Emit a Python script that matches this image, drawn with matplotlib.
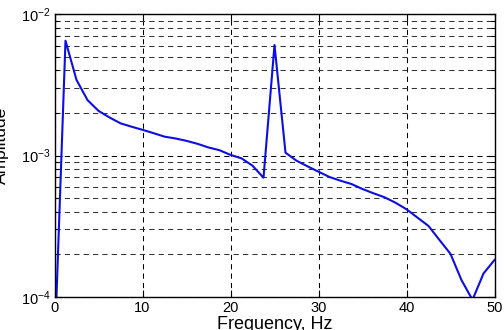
import matplotlib
matplotlib.use("Agg")
import matplotlib.pyplot as plt
from matplotlib.ticker import LogLocator, FixedLocator

plt.rcParams['font.family'] = ['Liberation Sans', 'DejaVu Sans']
plt.rcParams['mathtext.fontset'] = 'custom'
plt.rcParams['mathtext.rm'] = 'Liberation Sans'
plt.rcParams['mathtext.it'] = 'Liberation Sans:italic'
plt.rcParams['mathtext.bf'] = 'Liberation Sans:bold'

frequency = [i * 1.25 for i in range(41)]
amplitude = [
    4.0e-5, 6.5e-3, 3.43e-3, 2.47e-3, 2.07e-3, 1.86e-3, 1.69e-3, 1.60e-3,
    1.52e-3, 1.44e-3, 1.36e-3, 1.32e-3, 1.27e-3, 1.21e-3, 1.14e-3, 1.09e-3,
    1.01e-3, 0.955e-3, 0.847e-3, 0.696e-3, 6.06e-3, 1.047e-3, 0.919e-3,
    0.838e-3, 0.768e-3, 0.704e-3, 0.663e-3, 0.628e-3, 0.579e-3, 0.540e-3,
    0.506e-3, 0.463e-3, 0.416e-3, 0.363e-3, 0.317e-3, 0.252e-3, 0.201e-3,
    0.131e-3, 0.95e-4, 0.146e-3, 0.182e-3,
]
x_ticks = [0, 10, 20, 30, 40, 50]

W, H = 504, 330
fig = plt.figure(figsize=(W / 100, H / 100), dpi=100)
ax = fig.add_axes([54.5 / W, 1 - 296.7 / H, 440 / W, 282.4 / H])

ax.semilogy(frequency, amplitude, color=(0.05, 0.05, 0.9), lw=1.5)
ax.set_xlim(0, 50)
ax.set_ylim(1e-4, 1e-2)
ax.xaxis.set_major_locator(FixedLocator(x_ticks))
ax.yaxis.set_major_locator(LogLocator(base=10, numticks=10))
ax.yaxis.set_minor_locator(LogLocator(base=10, subs=range(2, 10), numticks=20))

dash = (0, (5, 4))
ax.grid(True, which='major', color='k', lw=0.75, linestyle=dash)
ax.grid(True, which='minor', axis='y', color='#333333', lw=0.75, linestyle=dash)

ax.tick_params(which='both', direction='in', top=True, right=True, labelsize=10.5,
               width=0.8)
ax.tick_params(which='major', length=5)
ax.tick_params(which='minor', length=3)
ax.tick_params(axis='x', pad=3)
ax.tick_params(axis='y', pad=3)
for s in ax.spines.values():
    s.set_linewidth(1.0)

fig.text(274.5 / W, 1 - 329 / H, 'Frequency, Hz', ha='center', va='baseline',
         fontsize=13)
fig.text(1.5 / W, 1 - 145 / H, 'Amplitude', ha='center', va='center',
         rotation=90, fontsize=12.5)

fig.savefig('out.png', dpi=100)
